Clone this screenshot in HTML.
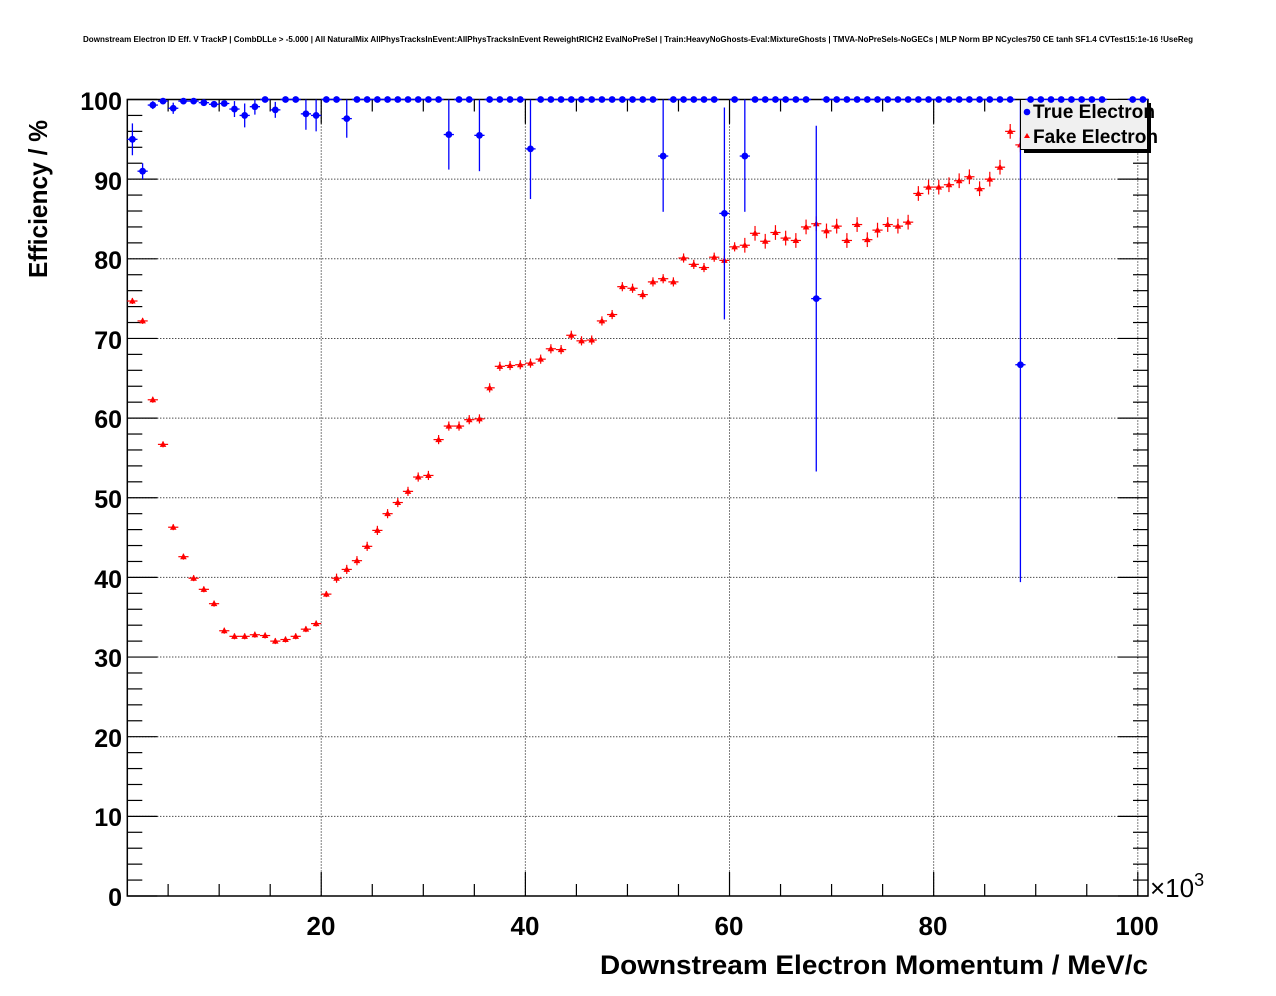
<!DOCTYPE html>
<html><head><meta charset="utf-8"><style>
html,body{margin:0;padding:0;background:#fff;}
svg{display:block;}
text{font-family:"Liberation Sans",Arial,sans-serif;font-weight:bold;}
</style></head><body>
<svg id="s" width="1276" height="996" viewBox="0 0 1276 996" xmlns="http://www.w3.org/2000/svg">
<rect width="1276" height="996" fill="#fff"/>
<text x="638" y="42" font-size="8.1" text-anchor="middle" textLength="1110" lengthAdjust="spacingAndGlyphs">Downstream Electron ID Eff. V TrackP | CombDLLe &gt; -5.000 | All NaturalMix AllPhysTracksInEvent:AllPhysTracksInEvent ReweightRICH2 EvalNoPreSel | Train:HeavyNoGhosts-Eval:MixtureGhosts | TMVA-NoPreSels-NoGECs | MLP Norm BP NCycles750 CE tanh SF1.4 CVTest15:1e-16 !UseReg</text>
<g id="grid" stroke="#000" stroke-width="1" stroke-dasharray="1,2"></g>
<g id="ticks" stroke="#000" stroke-width="1.2"></g>
<rect x="127.3" y="99.5" width="1020.7" height="796.5" fill="none" stroke="#000" stroke-width="1.5"/>
<g font-size="25" text-anchor="end">
<text x="122" y="906">0</text><text x="122" y="826">10</text><text x="122" y="747">20</text><text x="122" y="667">30</text><text x="122" y="588">40</text><text x="122" y="508">50</text><text x="122" y="428">60</text><text x="122" y="349">70</text><text x="122" y="269">80</text><text x="122" y="190">90</text><text x="122" y="110">100</text>
</g>
<g font-size="26" text-anchor="middle">
<text x="321" y="935">20</text><text x="525" y="935">40</text><text x="729" y="935">60</text><text x="933" y="935">80</text><text x="1137" y="935">100</text>
</g>
<text x="1150" y="897" font-size="26" style="font-weight:normal">×10<tspan dy="-11" font-size="18">3</tspan></text>
<text x="1148" y="974" font-size="27" text-anchor="end" textLength="548" lengthAdjust="spacingAndGlyphs">Downstream Electron Momentum / MeV/c</text>
<text transform="translate(47,278) rotate(-90)" font-size="26" textLength="158" lengthAdjust="spacingAndGlyphs">Efficiency / %</text>
<g id="red"></g>
<g id="blue"></g>
<rect x="1024" y="103" width="127" height="50" fill="#000"/>
<rect x="1020.5" y="99.5" width="127" height="50" fill="#f0f0f0" stroke="#000" stroke-width="1"/>
<circle cx="1027" cy="112" r="3.3" fill="#0000ff"/>
<text x="1033" y="118" font-size="19" textLength="122" lengthAdjust="spacingAndGlyphs">True Electron</text>
<polygon points="1027,133 1030,138 1024,138" fill="#ff0000"/>
<text x="1033" y="143" font-size="19" textLength="125" lengthAdjust="spacingAndGlyphs">Fake Electron</text>
<g id="blue2"></g>
</svg>
<script>
const NS="http://www.w3.org/2000/svg";
function X(v){return 127.3+(v-1)*10.207;}
function Y(v){return 896-v*7.965;}
function el(p,t,a){const e=document.createElementNS(NS,t);for(const k in a)e.setAttribute(k,a[k]);document.getElementById(p).appendChild(e);return e;}
for(let v=10;v<=90;v+=10)el('grid','line',{x1:127.3,x2:1148,y1:Y(v),y2:Y(v)});
for(let v=20;v<=100;v+=20)el('grid','line',{x1:X(v),x2:X(v),y1:99.5,y2:896});
for(let v=0;v<=100;v+=2){const L=(v%10==0)?30:15;el('ticks','line',{x1:127.3,x2:127.3+L,y1:Y(v),y2:Y(v)});el('ticks','line',{x1:1148,x2:1148-L,y1:Y(v),y2:Y(v)});}
for(let v=5;v<=100;v+=5){const L=(v%20==0)?24:12;el('ticks','line',{x1:X(v),x2:X(v),y1:896,y2:896-L});el('ticks','line',{x1:X(v),x2:X(v),y1:99.5,y2:99.5+L});}
const red=[74.7,72.2,62.3,56.7,46.3,42.6,39.9,38.5,36.7,33.3,32.6,32.6,32.8,32.7,32.0,32.2,32.6,33.5,34.2,37.9,39.9,41.0,42.1,43.9,45.9,48.0,49.4,50.8,52.6,52.8,57.3,59.0,59.0,59.8,59.9,63.8,66.5,66.6,66.7,66.9,67.4,68.7,68.6,70.4,69.7,69.8,72.2,73.0,76.5,76.3,75.5,77.1,77.5,77.1,80.1,79.3,78.9,80.2,79.8,81.5,81.7,83.2,82.2,83.3,82.6,82.3,84.0,84.4,83.5,84.1,82.3,84.3,82.4,83.6,84.3,84.1,84.6,88.2,89.0,89.0,89.3,89.8,90.3,88.8,90.0,91.5,96.0,94.3,95.5,96.0,96.5,97,96.5,97,97.5,97.5,98,98,98.5,98.5];
red.forEach((v,i)=>{const cx=X(i+1.5),cy=Y(v);const e=i<20?0.25:(i<60?0.45:0.8);
el('red','line',{x1:cx-5.1,x2:cx+5.1,y1:cy,y2:cy,stroke:'#f00','stroke-width':1.2});
el('red','line',{x1:cx,x2:cx,y1:Y(v+e)-1,y2:Y(v-e)+1,stroke:'#f00','stroke-width':1.2});
el('red','polygon',{points:`${cx},${cy-3.5} ${cx+3.3},${cy+2.5} ${cx-3.3},${cy+2.5}`,fill:'#f00'});});
const blue={0:[95,2,2],1:[91,1,1],2:[99.3,.5,.5],3:[99.8,.2,.2],4:[98.9,.7,.7],5:[99.8],6:[99.8],7:[99.6],8:[99.4],9:[99.5],10:[98.8,1,1],11:[98,1.5,1.5],12:[99.1,1,.9],13:[100],14:[98.7,1,1],15:[100],16:[100],17:[98.2,2,1.8],18:[98,2,2],19:[100],20:[100],21:[97.6,2.4,2.4],
31:[95.6,4.4,4.4],34:[95.5,4.5,4.5],39:[93.8,6.3,6.2],52:[92.9,7,7.1],58:[85.7,13.3,13.3],60:[92.9,7,7.1],67:[75,21.7,21.7],87:[66.7,27.3,33.3]};
const missing=new Set([96,97]);
for(let i=0;i<100;i++){if(missing.has(i))continue;const d=blue[i]||[100];const v=d[0];const cx=X(i+1.5),cy=Y(v);
const g=(i>=88)?'blue2':'blue';
el(g,'line',{x1:cx-5.1,x2:cx+5.1,y1:cy,y2:cy,stroke:'#00f','stroke-width':1.3});
if(d[1]){el(g,'line',{x1:cx,x2:cx,y1:Y(Math.min(100,v+d[2])),y2:Y(v-d[1]),stroke:'#00f','stroke-width':1.3});}
el(g,'circle',{cx:cx,cy:cy,r:3.4,fill:'#00f'});}
</script>
</body></html>
